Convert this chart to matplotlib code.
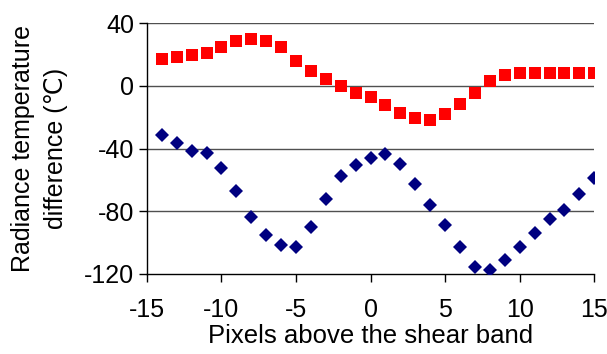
import matplotlib
matplotlib.use('Agg')
import matplotlib.pyplot as plt

plt.rcParams['font.family'] = ['Liberation Sans', 'DejaVu Sans']
plt.rcParams['axes.unicode_minus'] = False

pixels = list(range(-14, 16))
upper = [17.0, 18.3, 19.6, 20.9, 24.5, 28.4, 29.5, 28.4, 24.5, 15.7,
         9.5, 4.3, -0.4, -4.3, -6.9, -12.0, -17.2, -20.4, -21.7, -18.3,
         -11.8, -4.3, 3.2, 6.9, 8.2, 8.2, 8.2, 8.2, 8.2, 8.2]
lower = [-31.2, -36.4, -41.7, -42.8, -52.6, -67.4, -83.6, -95.0, -101.2, -102.5,
         -89.8, -72.5, -57.5, -50.3, -46.2, -43.6, -50.0, -62.7, -76.1, -88.8,
         -102.5, -115.7, -117.6, -111.0, -102.5, -93.7, -84.9, -78.9, -68.7, -58.8]
xticks = [-15, -10, -5, 0, 5, 10, 15]
yticks = [-120, -80, -40, 0, 40]

fig = plt.figure(figsize=(6.07, 3.54), dpi=100)
ax = fig.add_axes([0.242, 0.226, 0.737, 0.709])

for y in yticks[1:]:
    ax.axhline(y, color='#505050', lw=1.0, zorder=1)

ax.plot(pixels, upper, 's', color='#FF0000', markersize=8.5, markeredgewidth=0, zorder=3)
ax.plot(pixels, lower, 'D', color='#000080', markersize=7.5, markeredgewidth=0, zorder=3)

ax.set_xlim(-15, 15)
ax.set_ylim(-120, 40)
ax.set_xticks(xticks)
ax.set_yticks(yticks)
for s in ('top', 'right'):
    ax.spines[s].set_visible(False)
for s in ('left', 'bottom'):
    ax.spines[s].set_color('black')
    ax.spines[s].set_linewidth(1.0)
ax.tick_params(direction='out', length=6, width=1.0, labelsize=18, pad=3)
ax.tick_params(axis='x', pad=11)
ax.set_xlabel('Pixels above the shear band', fontsize=18.5, labelpad=1.5)
ax.set_ylabel('Radiance temperature\ndifference (℃)', fontsize=18, labelpad=12,
              linespacing=1.45)

fig.savefig('out.png', dpi=100, facecolor='white')
